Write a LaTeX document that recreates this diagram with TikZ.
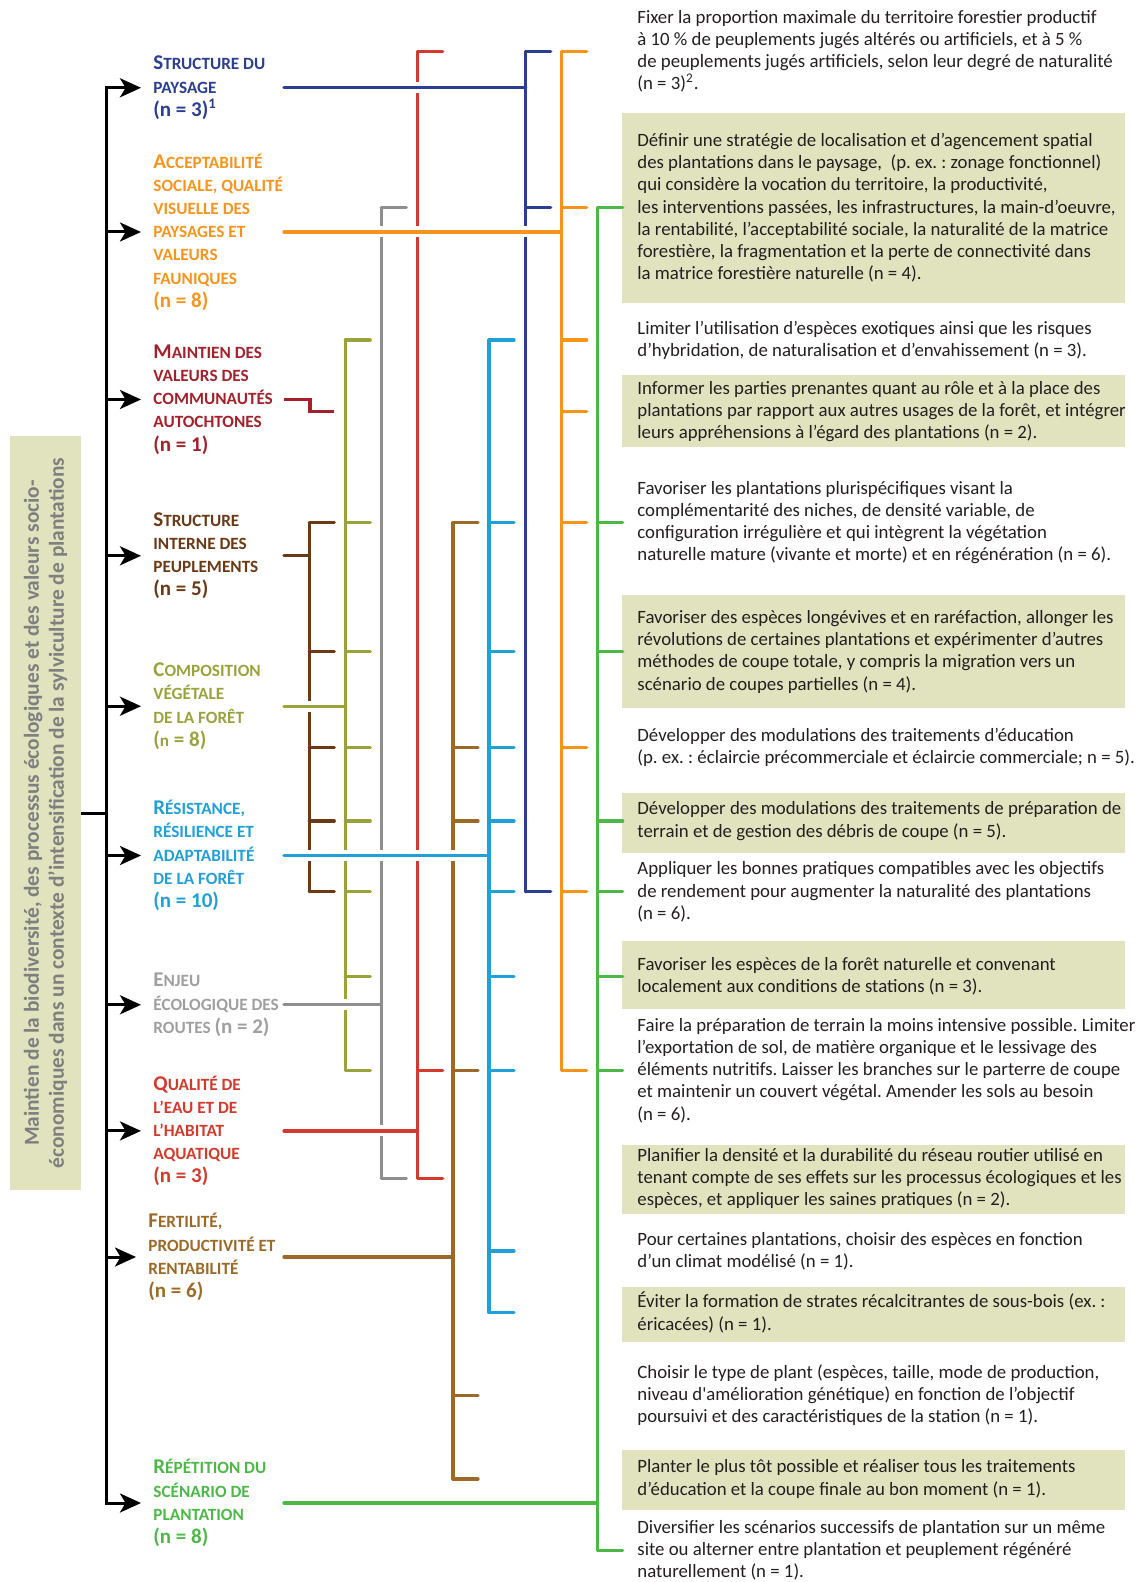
\documentclass[tikz,border=0pt]{standalone}
\usepackage{fontspec}
\setmainfont{Carlito}
\usepackage{tikz}
\usepackage{xcolor}
\usetikzlibrary{arrows.meta, positioning}
\frenchspacing

\definecolor{cblue}{HTML}{2B3E8F}
\definecolor{corange}{HTML}{F7941D}
\definecolor{cdarkred}{HTML}{A3212B}
\definecolor{cbrown}{HTML}{6A3916}
\definecolor{colive}{HTML}{9AA33B}
\definecolor{clightblue}{HTML}{219FD7}
\definecolor{cgray}{HTML}{8E8E8E}
\definecolor{cred}{HTML}{D13A2C}
\definecolor{cbrowntwo}{HTML}{9C6A28}
\definecolor{cgreen}{HTML}{4DB848}
\definecolor{boxfill}{HTML}{E1E3BE}
\definecolor{txtgray}{HTML}{231F20}
\definecolor{rootgray}{HTML}{7F7F7F}

\newcommand{\bigc}[1]{{\fontsize{10.5}{11.6}\selectfont #1}}

\begin{document}
\begin{tikzpicture}[x=0.5pt, y=-0.5pt,
    branch/.style={line width=1.6pt, line cap=round},
    halo/.style={white, line width=5.5pt, shorten >=1.6pt},
    trunk/.style={line width=1.5pt},
    arr/.style={trunk, -{Stealth[length=10.5pt, width=9.5pt, inset=2.8pt]}},
    catlab/.style={anchor=west, align=left, inner xsep=6pt, inner ysep=0pt, font=\fontsize{8.6}{11.6}\selectfont\bfseries},
    rowtext/.style={anchor=west, align=left, inner sep=0pt, text=txtgray, font=\fontsize{9.4}{11.1}\selectfont}]
    \useasboundingbox (0,0) rectangle (1141,1582);

    % Shaded boxes behind some actions
    \foreach \ya/\yb in {113/302.6, 375.3/446.9, 595.2/708.2, 792.9/853.4, 941.2/1008.8, 1145/1213.6, 1287.2/1341.7, 1449.6/1510.2}
        \fill[boxfill] (622.4,\ya) rectangle (1124.8,\yb);

    % Root objective
    \node[fill=boxfill, rotate=90, minimum width=377pt, minimum height=35.5pt, inner sep=0pt,
          align=center, text=rootgray, font=\fontsize{10.7}{12.5}\selectfont\bfseries] (root) at (45.5,813)
        {Maintien de la biodiversité, des processus écologiques et des valeurs socio-\\
         économiques dans un contexte d’intensification de la sylviculture de plantations};

    % Column positions
    \coordinate (tk) at (106,0);
    \coordinate (hs) at (284,0);
    \coordinate (vbrown) at (309.3,0);
    \coordinate (vdarkred) at (310,0);
    \coordinate (volive) at (345.3,0);
    \coordinate (vgray) at (381.3,0);
    \coordinate (vred) at (417.7,0);
    \coordinate (vbrowntwo) at (453,0);
    \coordinate (vlightblue) at (489,0);
    \coordinate (vblue) at (525.7,0);
    \coordinate (vorange) at (561.7,0);
    \coordinate (vgreen) at (597.7,0);

    % Categories
    \node[catlab, text=cblue] (lab1) at (141,87.8) {\bigc{S}TRUCTURE DU\\PAYSAGE\\\bigc{(n = 3)\textsuperscript{1}}};
    \node[catlab, text=corange] (lab2) at (141,232) {\bigc{A}CCEPTABILITÉ\\SOCIALE, QUALITÉ\\VISUELLE DES\\PAYSAGES ET\\VALEURS\\FAUNIQUES\\\bigc{(n = 8)}};
    \node[catlab, text=cdarkred] (lab3) at (141,399.5) {\bigc{M}AINTIEN DES\\VALEURS DES\\COMMUNAUTÉS\\AUTOCHTONES\\\bigc{(n = 1)}};
    \node[catlab, text=cbrown] (lab4) at (141,555.8) {\bigc{S}TRUCTURE\\INTERNE DES\\PEUPLEMENTS\\\bigc{(n = 5)}};
    \node[catlab, text=colive] (lab5) at (141,706.2) {\bigc{C}OMPOSITION\\VÉGÉTALE\\DE LA FORÊT\\\bigc{(}n\bigc{ = 8)}};
    \node[catlab, text=clightblue] (lab6) at (141,855.5) {\bigc{R}ÉSISTANCE,\\RÉSILIENCE ET\\ADAPTABILITÉ\\DE LA FORÊT\\\bigc{(n = 10)}};
    \node[catlab, text=cgray!85] (lab7) at (141,1004.8) {\bigc{E}NJEU\\ÉCOLOGIQUE DES\\ROUTES \bigc{(n = 2)}};
    \node[catlab, text=cred] (lab8) at (141,1130.9) {\bigc{Q}UALITÉ DE\\L’EAU ET DE\\L’HABITAT\\AQUATIQUE\\\bigc{(n = 3)}};
    \node[catlab, text=cbrowntwo] (lab9) at (136,1257) {\bigc{F}ERTILITÉ,\\PRODUCTIVITÉ ET\\RENTABILITÉ\\\bigc{(n = 6)}};
    \node[catlab, text=cgreen] (lab10) at (141,1503) {\bigc{R}ÉPÉTITION DU\\SCÉNARIO DE\\PLANTATION\\\bigc{(n = 8)}};

    % Actions
    \node[rowtext] (r1) at (637,51.4) {Fixer la proportion maximale du territoire forestier productif\\à 10~\% de peuplements jugés altérés ou artificiels, et à 5~\%\\de peuplements jugés artificiels, selon leur degré de naturalité\\(n = 3)\textsuperscript{2}.};
    \node[rowtext] (r2) at (637,207.8) {Définir une stratégie de localisation et d’agencement spatial\\des plantations dans le paysage,\ \ (p. ex. : zonage fonctionnel)\\qui considère la vocation du territoire, la productivité,\\les interventions passées, les infrastructures, la main-d’oeuvre,\\la rentabilité, l’acceptabilité sociale, la naturalité de la matrice\\forestière, la fragmentation et la perte de connectivité dans\\la matrice forestière naturelle (n = 4).};
    \node[rowtext] (r3) at (637,340) {Limiter l’utilisation d’espèces exotiques ainsi que les risques\\d’hybridation, de naturalisation et d’envahissement (n = 3).};
    \node[rowtext] (r4) at (637,411.6) {Informer les parties prenantes quant au rôle et à la place des\\plantations par rapport aux autres usages de la forêt, et intégrer\\leurs appréhensions à l’égard des plantations (n = 2).};
    \node[rowtext] (r5) at (637,522.6) {Favoriser les plantations plurispécifiques visant la\\complémentarité des niches, de densité variable, de\\configuration irrégulière et qui intègrent la végétation\\naturelle mature (vivante et morte) et en régénération (n = 6).};
    \node[rowtext] (r6) at (637,651.7) {Favoriser des espèces longévives et en raréfaction, allonger les\\révolutions de certaines plantations et expérimenter d’autres\\méthodes de coupe totale, y compris la migration vers un\\scénario de coupes partielles (n = 4).};
    \node[rowtext] (r7) at (637,747.5) {Développer des modulations des traitements d’éducation\\(p. ex. : éclaircie précommerciale et éclaircie commerciale; n = 5).};
    \node[rowtext] (r8) at (637,821) {Développer des modulations des traitements de préparation de\\terrain et de gestion des débris de coupe (n = 5).};
    \node[rowtext] (r9) at (637,891.8) {Appliquer les bonnes pratiques compatibles avec les objectifs\\de rendement pour augmenter la naturalité des plantations\\(n = 6).};
    \node[rowtext] (r10) at (637,976.5) {Favoriser les espèces de la forêt naturelle et convenant\\localement aux conditions de stations (n = 3).};
    \node[rowtext] (r11) at (637,1070.4) {Faire la préparation de terrain la moins intensive possible. Limiter\\l’exportation de sol, de matière organique et le lessivage des\\éléments nutritifs. Laisser les branches sur le parterre de coupe\\et maintenir un couvert végétal. Amender les sols au besoin\\(n = 6).};
    \node[rowtext] (r12) at (637,1178.3) {Planifier la densité et la durabilité du réseau routier utilisé en\\tenant compte de ses effets sur les processus écologiques et les\\espèces, et appliquer les saines pratiques (n = 2).};
    \node[rowtext] (r13) at (637,1250.9) {Pour certaines plantations, choisir des espèces en fonction\\d’un climat modélisé (n = 1).};
    \node[rowtext] (r14) at (637,1312.4) {Éviter la formation de strates récalcitrantes de sous-bois (ex. :\\éricacées) (n = 1).};
    \node[rowtext] (r15) at (637,1395.2) {Choisir le type de plant (espèces, taille, mode de production,\\niveau d\textquotesingle amélioration génétique) en fonction de l’objectif\\poursuivi et des caractéristiques de la station (n = 1).};
    \node[rowtext] (r16) at (637,1478.9) {Planter le plus tôt possible et réaliser tous les traitements\\d’éducation et la coupe finale au bon moment (n = 1).};
    \node[rowtext] (r17) at (637,1550.5) {Diversifier les scénarios successifs de plantation sur un même\\site ou alterner entre plantation et peuplement régénéré\\naturellement (n = 1).};

    % Vertical collectors
    \foreach \v/\c/\a/\b in {vbrown/cbrown/5/9, volive/colive/3/11, vgray/cgray/2/12, vred/cred/1/12,
                             vbrowntwo/cbrowntwo/5/16, vlightblue/clightblue/3/14, vblue/cblue/1/9,
                             vorange/corange/1/11, vgreen/cgreen/2/17}
        \draw[branch, \c] (\v |- r\a) -- (\v |- r\b);

    % Ticks towards the actions
    \foreach \k in {5,6,7,8,9} \draw[branch, cbrown] (vbrown |- r\k) -- ++(25,0);
    \foreach \k in {3,5,6,7,8,9,10,11} \draw[branch, colive] (volive |- r\k) -- ++(25,0);
    \foreach \k in {2,12} \draw[branch, cgray] (vgray |- r\k) -- ++(25,0);
    \foreach \k in {1,11,12} \draw[branch, cred] (vred |- r\k) -- ++(25,0);
    \foreach \k in {5,7,8,11,15,16} \draw[branch, cbrowntwo] (vbrowntwo |- r\k) -- ++(25,0);
    \foreach \k in {3,5,6,7,8,9,10,11,13,14} \draw[branch, clightblue] (vlightblue |- r\k) -- ++(25,0);
    \foreach \k in {1,2,9} \draw[branch, cblue] (vblue |- r\k) -- ++(25,0);
    \foreach \k in {1,2,3,4,5,7,9,11} \draw[branch, corange] (vorange |- r\k) -- ++(25,0);
    \foreach \k in {2,5,6,8,9,10,11,17} \draw[branch, cgreen] (vgreen |- r\k) -- ++(25,0);

    % Horizontal feeders (cut the verticals they cross)
    \foreach \i/\v/\c in {1/vblue/cblue, 2/vorange/corange, 4/vbrown/cbrown, 5/volive/colive,
                          6/vlightblue/clightblue, 7/vgray/cgray, 8/vred/cred, 9/vbrowntwo/cbrowntwo, 10/vgreen/cgreen}
    {
        \draw[halo] (hs |- lab\i) -- (\v |- lab\i);
        \draw[branch, \c] (hs |- lab\i) -- (\v |- lab\i);
    }
    \draw[branch, line cap=butt, cdarkred] (hs |- lab3) -| (vdarkred |- r4) -- ++(24,0);

    % Main trunk
    \draw[trunk, line cap=rect] (tk |- lab1) -- (tk |- lab10);
    \draw[trunk] (root.south) -- (root.south -| tk);
    \foreach \i in {1,...,10}
        \draw[arr] (tk |- lab\i) -- (lab\i.west);
\end{tikzpicture}
\end{document}
